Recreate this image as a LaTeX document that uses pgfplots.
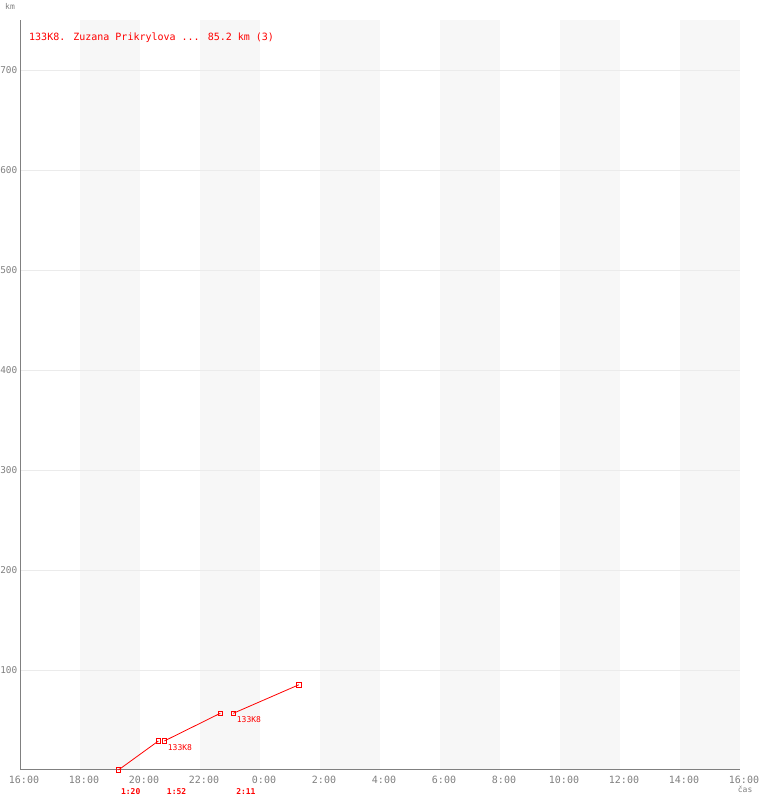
\documentclass[border=0pt]{standalone}
\usepackage{fontspec}
\setmainfont{DejaVu Sans Mono}
\usepackage{pgfplots}
\pgfplotsset{compat=1.18}

\definecolor{band}{HTML}{F7F7F7}
\definecolor{gridc}{HTML}{EBEBEB}
\definecolor{axc}{HTML}{808080}
\definecolor{trk}{HTML}{FF0000}

% x = hours since 16:00, y = km
\begin{document}
\begin{tikzpicture}
\path (0pt,0pt) rectangle (760pt,800pt);
\begin{axis}[
  at={(20pt,30pt)}, anchor=south west,
  scale only axis, width=720pt, height=750pt,
  xmin=0, xmax=24, ymin=0, ymax=750,
  set layers, clip=false,
  axis lines*=left,
  axis line style={axc, line width=1pt},
  xtick={0,2,...,24},
  xticklabels={16:00,18:00,20:00,22:00,0:00,2:00,4:00,6:00,8:00,10:00,12:00,14:00,16:00},
  ytick={100,200,...,700},
  ymajorgrids, grid style={gridc, line width=0.8pt},
  major tick length=0pt,
  tick label style={axc, overlay, font=\fontsize{10}{12}\selectfont},
  xticklabel style={xshift=4pt, yshift=-3pt, inner sep=3pt},
  yticklabel style={inner sep=2.5pt, font=\fontsize{9.4}{11}\selectfont},
  /pgf/number format/assume math mode=true,
]
\begin{pgfonlayer}{axis background}
  \fill[band] (axis cs:2,0) rectangle (axis cs:4,750);
  \fill[band] (axis cs:6,0) rectangle (axis cs:8,750);
  \fill[band] (axis cs:10,0) rectangle (axis cs:12,750);
  \fill[band] (axis cs:14,0) rectangle (axis cs:16,750);
  \fill[band] (axis cs:18,0) rectangle (axis cs:20,750);
  \fill[band] (axis cs:22,0) rectangle (axis cs:24,750);
\end{pgfonlayer}

\addplot[trk, line width=0.8pt, mark=square, mark size=2.2pt] coordinates {(3.28,0) (4.613,29)};
\addplot[trk, line width=0.8pt, mark=square, mark size=2.2pt] coordinates {(4.81,29) (6.677,56.7)};
\addplot[trk, line width=0.8pt, mark=square, mark size=2.2pt] coordinates {(7.11,56.7) (9.293,85.2)};

\node[trk, anchor=west, inner sep=0pt, font=\fontsize{8}{8}\selectfont] at (axis cs:4.923,22) {133K8};
\node[trk, anchor=west, inner sep=0pt, font=\fontsize{8}{8}\selectfont] at (axis cs:7.223,50) {133K8};

\node[trk, inner sep=0pt, font=\fontsize{8}{8}\selectfont\bfseries] at (axis cs:3.69,-22) {1:20};
\node[trk, inner sep=0pt, font=\fontsize{8}{8}\selectfont\bfseries] at (axis cs:5.22,-22) {1:52};
\node[trk, inner sep=0pt, font=\fontsize{8}{8}\selectfont\bfseries] at (axis cs:7.53,-22) {2:11};

\node[trk, anchor=west, inner sep=0pt, font=\fontsize{10}{10}\selectfont] at (axis cs:0.3,732) {133K8. Zuzana Prikrylova ... 85.2 km (3)};

\node[axc, inner sep=0pt, font=\fontsize{8}{8}\selectfont] at (axis cs:-0.333,764) {km};
\node[axc, inner sep=0pt, font=\fontsize{8}{8}\selectfont] at (axis cs:24.17,-19) {čas};
\end{axis}
\end{tikzpicture}
\end{document}
